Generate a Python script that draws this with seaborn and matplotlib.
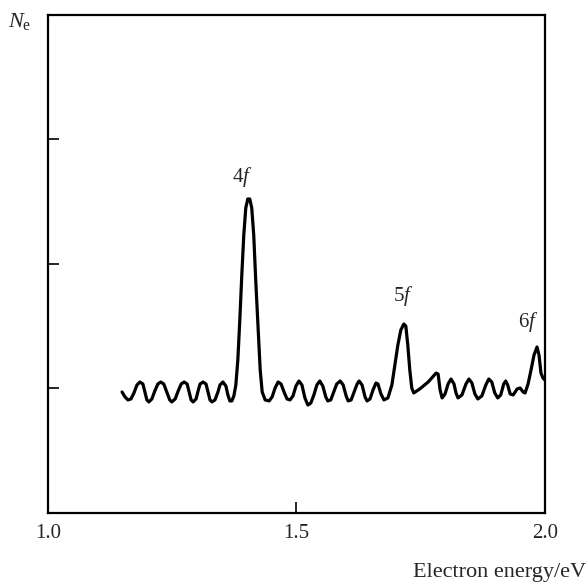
import matplotlib
matplotlib.use("Agg")
import matplotlib.pyplot as plt
import seaborn as sns
import pandas as pd

sns.set_theme(style="white")
plt.rcParams["font.family"] = ["Liberation Serif", "DejaVu Serif"]
plt.rcParams["mathtext.fontset"] = "custom"
plt.rcParams["mathtext.rm"] = "Liberation Serif"
plt.rcParams["mathtext.it"] = "Liberation Serif:italic"

# Electron energy (eV)
energy = [
    1.149, 1.155, 1.161, 1.167, 1.173, 1.179, 1.185, 1.191, 1.195, 1.199,
    1.203, 1.209, 1.215, 1.221, 1.227, 1.233, 1.239, 1.245, 1.249, 1.256,
    1.262, 1.268, 1.274, 1.280, 1.284, 1.288, 1.292, 1.298, 1.302, 1.306,
    1.312, 1.318, 1.322, 1.326, 1.330, 1.336, 1.342, 1.346, 1.352, 1.358,
    1.362, 1.366, 1.370, 1.374, 1.378, 1.382, 1.386, 1.390, 1.394, 1.398,
    1.402, 1.406, 1.410, 1.414, 1.418, 1.423, 1.427, 1.431, 1.437, 1.445,
    1.451, 1.457, 1.463, 1.469, 1.475, 1.481, 1.487, 1.493, 1.499, 1.505,
    1.511, 1.517, 1.523, 1.529, 1.535, 1.541, 1.547, 1.553, 1.559, 1.563,
    1.569, 1.575, 1.581, 1.588, 1.594, 1.600, 1.604, 1.610, 1.616, 1.622,
    1.626, 1.632, 1.638, 1.642, 1.648, 1.654, 1.660, 1.664, 1.670, 1.676,
    1.684, 1.692, 1.698, 1.704, 1.710, 1.716, 1.720, 1.724, 1.728, 1.732,
    1.736, 1.748, 1.765, 1.781, 1.785, 1.789, 1.793, 1.799, 1.805, 1.811,
    1.817, 1.821, 1.825, 1.833, 1.841, 1.847, 1.853, 1.859, 1.865, 1.873,
    1.881, 1.887, 1.893, 1.899, 1.905, 1.911, 1.917, 1.921, 1.925, 1.930,
    1.936, 1.944, 1.950, 1.956, 1.960, 1.966, 1.972, 1.978, 1.984, 1.988,
    1.992, 1.996, 2.000,
]

# Electron count N_e (arbitrary units)
n_e = [
    0.972, 0.932, 0.908, 0.916, 0.964, 1.028, 1.052, 1.036, 0.972, 0.908,
    0.892, 0.916, 0.980, 1.036, 1.052, 1.036, 0.972, 0.908, 0.892, 0.916,
    0.980, 1.036, 1.052, 1.036, 0.972, 0.908, 0.892, 0.916, 0.980, 1.036,
    1.052, 1.036, 0.972, 0.908, 0.892, 0.908, 0.972, 1.028, 1.052, 1.020,
    0.948, 0.900, 0.900, 0.940, 1.028, 1.229, 1.550, 1.912, 2.233, 2.450,
    2.522, 2.522, 2.450, 2.233, 1.871, 1.470, 1.149, 0.972, 0.908, 0.900,
    0.932, 1.004, 1.052, 1.036, 0.972, 0.916, 0.908, 0.940, 1.020, 1.060,
    1.028, 0.924, 0.867, 0.884, 0.948, 1.028, 1.060, 1.020, 0.932, 0.900,
    0.908, 0.972, 1.036, 1.060, 1.028, 0.940, 0.900, 0.908, 0.972, 1.036,
    1.060, 1.028, 0.932, 0.900, 0.916, 0.988, 1.044, 1.036, 0.956, 0.908,
    0.924, 1.028, 1.189, 1.349, 1.470, 1.518, 1.502, 1.349, 1.149, 1.004,
    0.964, 0.996, 1.052, 1.124, 1.116, 0.988, 0.924, 0.956, 1.036, 1.076,
    1.036, 0.964, 0.924, 0.948, 1.036, 1.076, 1.044, 0.956, 0.916, 0.940,
    1.028, 1.076, 1.052, 0.964, 0.924, 0.948, 1.036, 1.060, 1.028, 0.956,
    0.948, 0.996, 1.004, 0.972, 0.964, 1.036, 1.149, 1.269, 1.333, 1.269,
    1.124, 1.084, 1.068,
]

peak_labels = ["4", "5", "6"]
peak_label_x = [1.392, 1.714, 1.966]
peak_label_y = [2.70, 1.745, 1.535]

x_ticks = [1.0, 1.5, 2.0]
x_tick_labels = ["1.0", "1.5", "2.0"]
y_ticks = [1, 2, 3]

df = pd.DataFrame({"energy": energy, "n_e": n_e})

fig = plt.figure(figsize=(5.88, 5.85), dpi=100)
ax = fig.add_axes([0.0816, 0.1231, 0.8452, 0.8513])

sns.lineplot(data=df, x="energy", y="n_e", ax=ax, color="black",
             linewidth=2.3, sort=False, estimator=None)

ax.set_xlim(1.0, 2.0)
ax.set_ylim(0, 4)
ax.set_xticks(x_ticks)
ax.set_xticklabels(x_tick_labels, fontsize=15)
ax.set_yticks(y_ticks)
ax.set_yticklabels([])
ax.tick_params(axis="both", direction="in", length=8, width=1.2,
               color="black", pad=8, bottom=True, left=True)
for s in ax.spines.values():
    s.set_color("black")
    s.set_linewidth(1.6)
ax.set_xlabel("")
ax.set_ylabel("")

for lab, xx, yy in zip(peak_labels, peak_label_x, peak_label_y):
    ax.text(xx, yy, lab + r"$f$", ha="center", va="center", fontsize=15)

fig.text(20 / 588, 1 - 22 / 585, r"$N_{\rm e}$", ha="center", va="center",
         fontsize=16)
fig.text(586 / 588, 1 - 573 / 585, "Electron energy/eV", ha="right",
         va="center", fontsize=16)

fig.savefig("out.png", dpi=100)
